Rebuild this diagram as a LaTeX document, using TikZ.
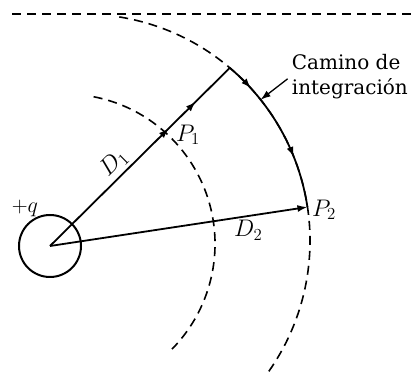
\RequirePackage{fix-cm}
\documentclass[tikz,border=0pt]{standalone}
\usepackage{fontspec}
\setmainfont{DejaVu Serif}
\usepackage{tikz}
\usetikzlibrary{arrows.meta,decorations.markings}

\begin{document}
\begin{tikzpicture}[x=1pt, y=1pt, line width=1.8pt,
    font=\fontsize{20}{25}\selectfont,
    equip/.style={dash pattern=on 9pt off 6pt, line width=1.6pt},
    tip/.style={-{Latex[length=10pt,width=7pt]}},
    twoarrows/.style 2 args={postaction={decorate}, decoration={markings,
        mark=at position #1 with {\arrow{Latex[length=10pt,width=7pt]}},
        mark=at position #2 with {\arrow{Latex[length=10pt,width=7pt]}}}}]

    \useasboundingbox (0,0) rectangle (413,379);

    % centres of the charge and of the two dashed circles
    \coordinate (o) at (50,133);
    \coordinate (ci) at (65,135);
    \coordinate (co) at (83,138);

    % equipotentials
    \draw[equip] (12,365) -- (413,365);
    \draw[equip] (ci) ++(79:150) arc[start angle=79, end angle=-44.5, radius=150];
    \draw[equip] (co) ++(80.8:227) arc[start angle=80.8, end angle=-36.3, radius=227];

    \path (co) ++(49.7:227) coordinate (k);
    \path (co) ++(8.6:227) coordinate (p2);
    \path (co) ++(38.5:227) coordinate (hit);

    \node[circle, draw, minimum size=62pt, inner sep=0pt, line width=2pt] (q) at (o) {};
    \node[font=\fontsize{22}{25}\selectfont] (qlbl) at (25,171) {$+q$};

    \draw[twoarrows={0.66}{0.81}] (q.center) -- (k)
        node[pos=0.41, sloped, above, font=\fontsize{24}{25}\selectfont] {$D_1$};
    \draw[twoarrows={0.18}{0.68}] (k) arc[start angle=49.7, end angle=8.6, radius=227];
    \draw[tip] (q.center) -- (p2) node[pos=0.77, below, font=\fontsize{24}{25}\selectfont] {$D_2$};

    \node[font=\fontsize{24}{25}\selectfont] (p1lbl) at (188,244) {$P_1$};
    \node[font=\fontsize{24}{25}\selectfont] (p2lbl) at (324,169) {$P_2$};

    \node[align=left, anchor=west, inner sep=1pt] (camino) at (290,302) {Camino de\\integración};
    \draw[tip, line width=1.3pt, shorten <=3pt] (camino.west) -- (hit);
\end{tikzpicture}
\end{document}
